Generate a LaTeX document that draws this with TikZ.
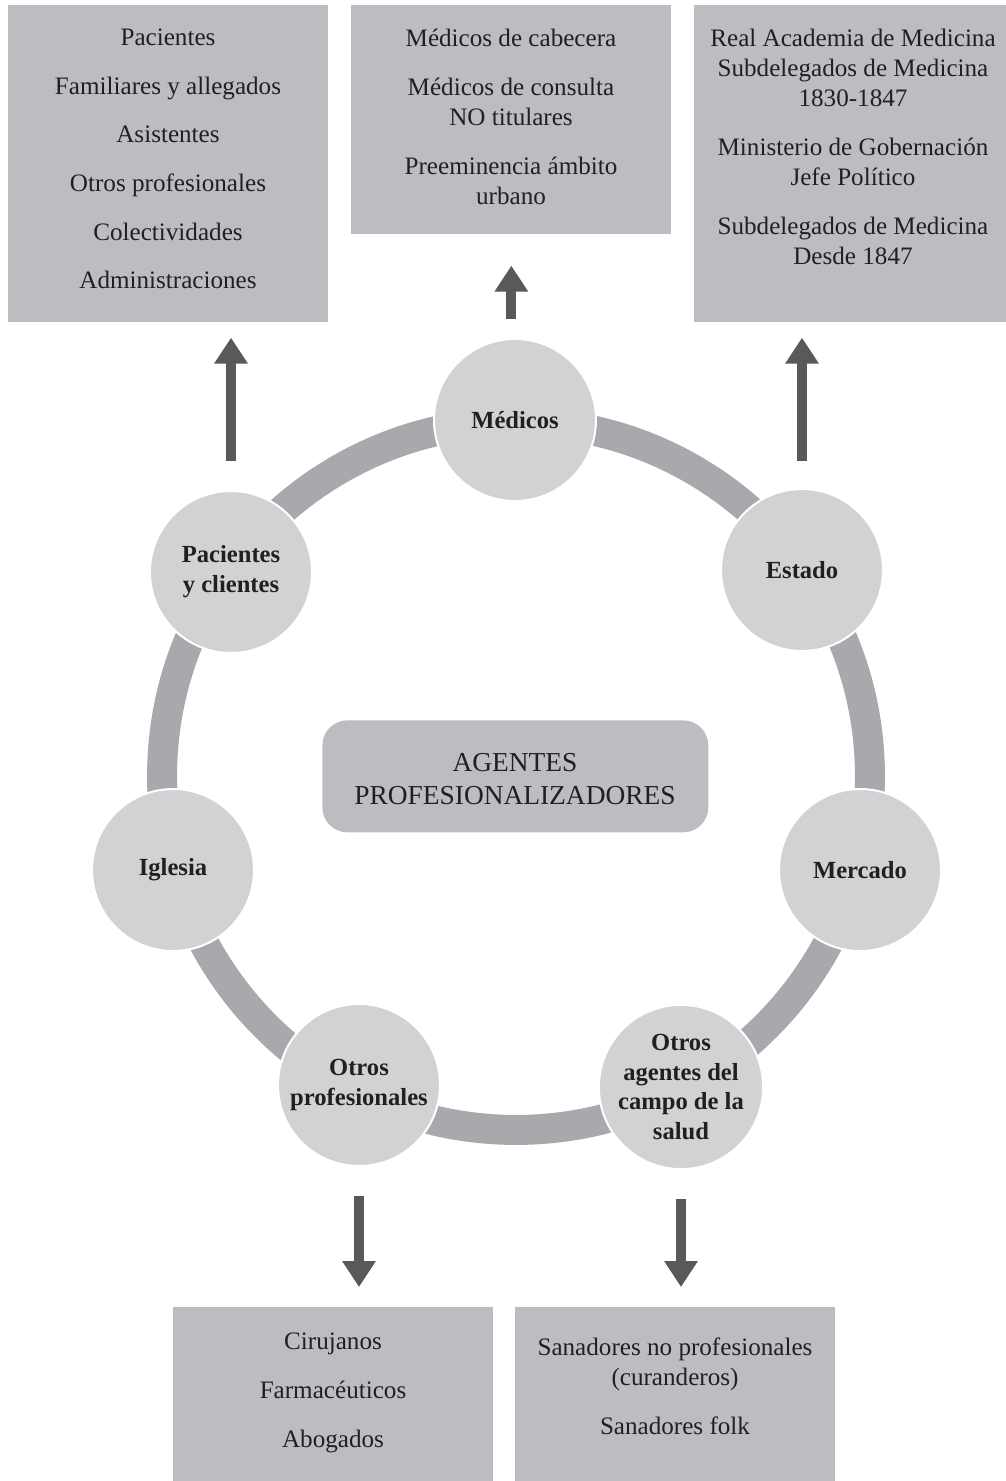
\documentclass[tikz,border=0pt]{standalone}
\usepackage{fontspec}
\setmainfont{Liberation Serif}
\usepackage{tikz}
\usetikzlibrary{positioning,calc,arrows.meta}

\definecolor{boxgray}{HTML}{BCBDC0}
\definecolor{discgray}{HTML}{D1D2D4}
\definecolor{ringgray}{HTML}{A7A9AC}
\definecolor{arrowgray}{HTML}{58595B}
\definecolor{inkblack}{HTML}{231F20}

\tikzset{
  infobox/.style={fill=boxgray, inner sep=0pt, anchor=north west},
  boxtext/.style={text=inkblack, align=center, inner sep=0pt, font=\fontsize{14.3}{17.2}\selectfont},
  agent/.style={circle, fill=discgray, draw=white, line width=0.04cm, minimum size=3.24cm,
    inner sep=0pt, align=center, text=inkblack, font=\fontsize{14}{17}\selectfont\bfseries},
  ring/.style={ringgray, line width=0.6cm},
  corebox/.style={fill=boxgray, rounded corners=0.5cm, minimum width=7.72cm, minimum height=2.24cm,
    inner sep=0pt, anchor=north west},
  coretext/.style={text=inkblack, align=center, inner sep=0pt, font=\fontsize{15.6}{18.8}\selectfont},
  bigarrow/.style={arrowgray, line width=0.2cm, -{Triangle[width=0.64cm,length=0.52cm]}}
}

\begin{document}
\begin{tikzpicture}[x=0.02cm, y=-0.02cm]
    \useasboundingbox (0,0) rectangle (1006,1481);

    % Ring joining the agents
    \draw[ring] (516,776) circle[radius=7.08cm];

    % Central label
    \node[corebox] (core) at (322,720) {};
    \node[coretext] (coretxt) at (515,779) {AGENTES\\PROFESIONALIZADORES};

    % Agents on the ring
    \foreach \name/\x/\y/\label in {med/515/420/{Médicos}, est/802/570/{Estado},
        mer/860/870/{Mercado}, oag/681/1087/{Otros\\agentes del\\campo de la\\salud},
        opr/359/1085/{Otros\\profesionales}, igl/173/870/{Iglesia},
        pac/231/572/{Pacientes\\y clientes}} {
        \node[agent] (\name) at (\x,\y) {\label};
    }

    % Top boxes
    \node[infobox, minimum width=6.4cm, minimum height=6.34cm] (boxpac) at (8,5) {};
    \node[boxtext] (txtpac) at (168,159) {Pacientes\\[10.5pt]Familiares y allegados\\[10.5pt]Asistentes\\[10.5pt]Otros profesionales\\[10.5pt]Colectividades\\[10.5pt]Administraciones};

    \node[infobox, minimum width=6.4cm, minimum height=4.58cm] (boxmed) at (351,5) {};
    \node[boxtext] (txtmed) at (511,117) {Médicos de cabecera\\[10.5pt]Médicos de consulta\\NO titulares\\[10.5pt]Preeminencia ámbito\\urbano};

    \node[infobox, minimum width=6.24cm, minimum height=6.34cm] (boxest) at (694,5) {};
    \node[boxtext] (txtest) at (853,147) {Real Academia de Medicina\\Subdelegados de Medicina\\1830-1847\\[10.5pt]Ministerio de Gobernación\\Jefe Político\\[10.5pt]Subdelegados de Medicina\\Desde 1847};

    % Bottom boxes
    \node[infobox, minimum width=6.4cm, minimum height=3.48cm] (boxopr) at (173,1307) {};
    \node[boxtext] (txtopr) at (333,1393) {Cirujanos\\[10.5pt]Farmacéuticos\\[10.5pt]Abogados};

    \node[infobox, minimum width=6.4cm, minimum height=3.48cm] (boxoag) at (515,1307) {};
    \node[boxtext] (txtoag) at (675,1386) {Sanadores no profesionales\\(curanderos)\\[10.5pt]Sanadores folk};

    % Arrows
    \draw[bigarrow] ([yshift=0.58cm]pac.north) -- ([yshift=-0.3cm]pac.north |- boxpac.south);
    \draw[bigarrow] ([yshift=0.38cm]boxmed.south |- med.north) -- ([yshift=-0.62cm]boxmed.south);
    \draw[bigarrow] ([yshift=0.54cm]est.north) -- ([yshift=-0.3cm]est.north |- boxest.south);
    \draw[bigarrow] ([yshift=-0.58cm]opr.south) -- ([yshift=0.4cm]opr.south |- boxopr.north);
    \draw[bigarrow] ([yshift=-0.58cm]oag.south) -- ([yshift=0.4cm]oag.south |- boxoag.north);
\end{tikzpicture}
\end{document}
